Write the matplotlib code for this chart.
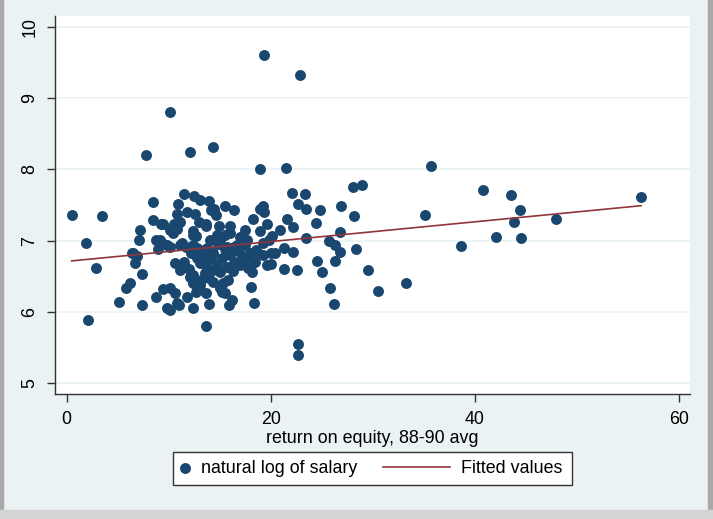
import matplotlib
matplotlib.use("Agg")
import matplotlib.pyplot as plt
from matplotlib.patches import Rectangle

plt.rcParams['font.family'] = ['Liberation Sans', 'DejaVu Sans']

# return on equity (x) and log salary (y)
roe = [19.4, 22.9, 10.1, 7.8, 12.1, 14.4, 19.0, 21.5,
       0.5, 3.5, 1.9, 2.9, 2.1, 5.1, 5.8, 6.2, 7.4, 7.4, 6.7, 6.5, 8.8, 6.9,
       35.7, 29.0, 28.1, 40.8, 43.6, 44.4, 56.3, 35.1, 43.9, 48.0, 42.1, 44.5, 38.7, 29.5, 30.5, 33.3,
       22.7, 22.7, 13.7,
       26.9, 28.2, 26.8, 28.4, 26.3, 25.7, 26.8, 26.3, 25.0, 24.5, 25.8, 26.2,
       22.1, 23.4, 22.7, 23.5, 24.8, 21.6, 22.2, 24.4, 23.5, 21.3, 22.2, 20.9, 20.1, 21.3, 22.6,
       19.3, 19.4, 19.0, 18.3, 19.6, 19.0, 19.8, 19.3, 18.8, 20.0, 20.4, 19.3, 19.6, 20.0, 18.2, 18.1, 18.4, 17.7, 17.8,
       11.5, 8.5, 10.9, 12.5, 13.1, 14.0, 14.5, 15.5, 16.4, 14.2, 14.6,
       8.5, 9.3, 7.2, 7.1, 8.8, 9.4, 11.1, 10.8, 11.8, 12.6, 13.0, 13.7, 12.4, 12.7, 10.1, 10.4, 11.3, 12.4,
       14.1, 14.9, 16.0, 16.0, 17.0, 17.5, 16.4, 15.0, 6.4, 9.0, 10.1,
       13.7, 9.5, 10.5, 10.8, 12.4, 14.7, 15.5, 17.7, 16.7, 15.7, 9.2, 9.8, 11.1, 11.7, 13.1, 14.4, 18.0, 18.6,
       10.1, 11.0, 10.1, 10.6, 10.6, 11.1, 12.4, 11.8, 14.0, 12.1, 12.4, 12.7, 13.1, 13.6, 13.7, 14.4,
       15.0, 15.5, 15.9, 16.2, 14.7, 14.4, 15.0, 16.4, 17.0, 10.8, 12.4, 13.1, 12.9, 15.2, 15.7, 16.7, 13.7,
       15.2, 16.0, 16.8, 17.3, 15.5, 14.8, 13.8, 14.2, 13.5, 12.8, 12.2, 16.3, 17.3, 18.5, 15.8, 14.0,
       13.2, 12.0, 11.5, 15.3, 9.5, 9.8, 12.8, 17.5]
lsalary = [9.60, 9.32, 8.80, 8.20, 8.25, 8.32, 8.00, 8.02,
           7.36, 7.34, 6.96, 6.62, 5.88, 6.14, 6.34, 6.40, 6.09, 6.53, 6.68, 6.82, 6.21, 6.78,
           8.05, 7.78, 7.75, 7.71, 7.64, 7.43, 7.61, 7.36, 7.26, 7.31, 7.05, 7.03, 6.92, 6.59, 6.29, 6.41,
           5.55, 5.40, 5.80,
           7.49, 7.35, 7.12, 6.88, 6.94, 6.99, 6.84, 6.72, 6.56, 6.72, 6.34, 6.11,
           7.67, 7.65, 7.51, 7.45, 7.43, 7.31, 7.19, 7.25, 7.03, 6.89, 6.84, 7.15, 7.07, 6.60, 6.59,
           7.48, 7.40, 7.45, 7.31, 7.23, 7.13, 7.01, 6.96, 6.82, 6.82, 6.82, 6.80, 6.66, 6.67, 6.56, 6.35, 6.13, 6.75, 6.61,
           7.65, 7.54, 7.52, 7.62, 7.57, 7.55, 7.45, 7.49, 7.43, 7.43, 7.36,
           7.29, 7.23, 7.15, 7.01, 7.01, 6.97, 7.26, 7.38, 7.40, 7.37, 7.26, 7.21, 7.13, 7.06, 7.15, 7.11, 6.96, 6.94,
           7.01, 7.20, 7.20, 7.10, 7.05, 6.94, 6.91, 7.01, 6.83, 6.88, 6.91,
           7.24, 7.24, 7.24, 7.17, 7.08, 7.08, 7.08, 7.01, 6.94, 6.91, 7.01, 6.94, 6.94, 6.91, 6.87, 6.82, 6.82, 6.87,
           6.02, 6.10, 6.33, 6.27, 6.68, 6.59, 6.05, 6.21, 6.11, 6.49, 6.40, 6.28, 6.68, 6.54, 6.26, 6.42,
           6.33, 6.26, 6.10, 6.17, 6.66, 6.59, 6.56, 6.68, 6.66, 6.12, 6.52, 6.38, 6.31, 6.28, 6.63, 6.70, 6.66,
           6.75, 6.80, 6.85, 6.78, 6.88, 6.95, 6.90, 6.75, 6.80, 6.75, 6.82, 6.58, 6.70, 6.70, 6.45, 6.48,
           6.45, 6.60, 6.70, 6.40, 6.32, 6.05, 6.90, 7.15]

# fitted line end points
fit_x = [0.5, 56.3]
fit_y = [6.715, 7.49]

x_ticks = [0, 20, 40, 60]
y_ticks = [5, 6, 7, 8, 9, 10]

bg = '#eaf2f3'
navy = '#1a476f'
maroon = '#90353b'
fs = 12.9

fig = plt.figure(figsize=(7.13, 5.19), dpi=100, facecolor=bg)
ax = fig.add_axes([55/713, 125/519, 635/713, 378/519])
ax.set_facecolor('white')

pts = ax.scatter(roe, lsalary, s=62, color=navy, linewidths=0, zorder=3, label='natural log of salary')
fit, = ax.plot(fit_x, fit_y, color=maroon, lw=1.2, zorder=4, label='Fitted values')

ax.set_xlim(-1.13, 61.1)
ax.set_ylim(4.846, 10.154)
ax.set_xticks(x_ticks)
ax.set_yticks(y_ticks)
ax.set_yticklabels([str(v) for v in y_ticks], rotation=90, va='center')
ax.grid(axis='y', color=bg, lw=1.2, zorder=0)
ax.grid(axis='x', visible=False)
for side in ['top', 'right']:
    ax.spines[side].set_visible(False)
for side in ['left', 'bottom']:
    ax.spines[side].set_color('#333333')
    ax.spines[side].set_linewidth(1)
ax.tick_params(axis='both', direction='out', length=6, width=1, color='#333333',
               labelsize=fs, pad=6)
ax.set_xlabel('return on equity, 88-90 avg', fontsize=fs, labelpad=2)

# legend: box plus two entries
ly = 1 - 468.5/519
fig.patches.append(Rectangle((173/713, 1 - 485/519), 399/713, 33/519, transform=fig.transFigure,
                             facecolor='white', edgecolor='#333333', lw=1, zorder=1))
fig.legend([pts], ['natural log of salary'], loc='center left', bbox_to_anchor=(176/713, ly),
           frameon=False, fontsize=fs, borderpad=0, borderaxespad=0, handlelength=1.0,
           handletextpad=0.38, scatterpoints=1)
fig.legend([fit], ['Fitted values'], loc='center left', bbox_to_anchor=(383/713, ly),
           frameon=False, fontsize=fs, borderpad=0, borderaxespad=0, handlelength=3.75,
           handletextpad=0.62)

# window edges
fig.patches.append(Rectangle((0, 0), 3/713, 1, transform=fig.transFigure, color='#a9a9a9', zorder=0))
fig.patches.append(Rectangle((708/713, 0), 5/713, 1, transform=fig.transFigure, color='#a9a9a9', zorder=0))
fig.patches.append(Rectangle((0, 0), 1, 9/519, transform=fig.transFigure, color='#d4d4d4', zorder=0))

fig.savefig('out.png', dpi=100, facecolor=bg)
